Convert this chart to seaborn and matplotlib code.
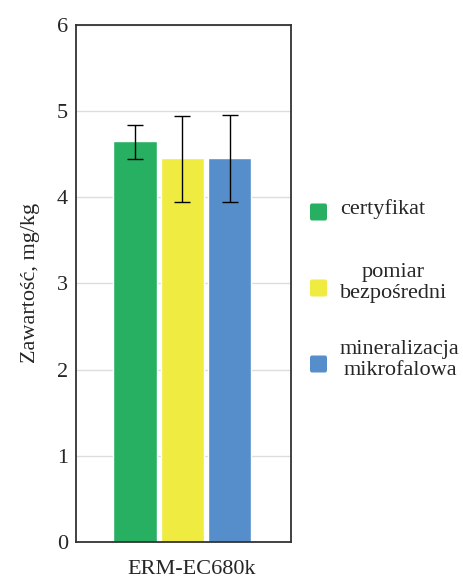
import matplotlib
matplotlib.use("Agg")
import matplotlib.pyplot as plt
import matplotlib.transforms as mtransforms
from matplotlib.patches import FancyBboxPatch
import seaborn as sns
import pandas as pd

category = ["ERM-EC680k"]
methods = ["certyfikat", "pomiar\nbezpośredni", "mineralizacja\nmikrofalowa"]
values = [4.65, 4.45, 4.45]
err_low = [4.44, 3.94, 3.95]
err_high = [4.84, 4.94, 4.95]
colors = ["#28B062", "#F0EB41", "#558ECB"]
yticks = [0, 1, 2, 3, 4, 5, 6]

sns.set_style("white")
plt.rcParams["font.family"] = ["Liberation Serif", "DejaVu Serif"]

df = pd.DataFrame({"cat": category * len(methods), "method": methods, "value": values})

W, H = 464, 579
fig = plt.figure(figsize=(W / 100, H / 100), dpi=100)
ax = fig.add_axes([0.164, 0.064, 0.463, 0.893])
sns.barplot(data=df, x="cat", y="value", hue="method", hue_order=methods,
            palette=colors, width=0.66, gap=0.08, errorbar=None, ax=ax,
            saturation=1, legend=False)

for p, lo, hi in zip(ax.patches, err_low, err_high):
    cx = p.get_x() + p.get_width() / 2
    ax.errorbar([cx], [(lo + hi) / 2], yerr=[(hi - lo) / 2], fmt="none",
                ecolor="black", elinewidth=1.0, capsize=6, capthick=1.0, zorder=5)

ax.set_xlim(-0.495, 0.505)
ax.set_ylim(0, 6)
ax.set_yticks(yticks)
ax.set_yticklabels([str(t) for t in yticks], fontsize=16)
ax.tick_params(axis="x", labelsize=16, length=0, pad=13)
ax.tick_params(axis="y", length=0, pad=6)
for lbl in ax.get_xticklabels():
    lbl.set_transform(lbl.get_transform() + mtransforms.ScaledTranslation(9 / 100, 0, fig.dpi_scale_trans))
ax.set_xlabel("")
ax.set_ylabel("Zawartość, mg/kg", fontsize=16, labelpad=12)
ax.yaxis.grid(True, color="#dddddd", linewidth=1)
ax.set_axisbelow(True)
for s in ax.spines.values():
    s.set_color("#333333")
    s.set_linewidth(1.3)

# legend drawn manually (layout in pixels)
handle_x, handle_size = 310, 17
text_x = 340
handle_yc = [212, 288, 364]
text_yc = [209, 283, 360]
for c, lab, hy, ty in zip(colors, methods, handle_yc, text_yc):
    patch = FancyBboxPatch((handle_x / W, 1 - (hy + handle_size / 2) / H),
                           handle_size / W, handle_size / H,
                           boxstyle="round,pad=0,rounding_size=0.004",
                           transform=fig.transFigure, facecolor=c, edgecolor="none")
    fig.patches.append(patch)
    fig.text(text_x / W, 1 - ty / H, lab, ha="left", va="center",
             multialignment="center", fontsize=16, linespacing=1.12)

fig.savefig("out.png", dpi=100)
